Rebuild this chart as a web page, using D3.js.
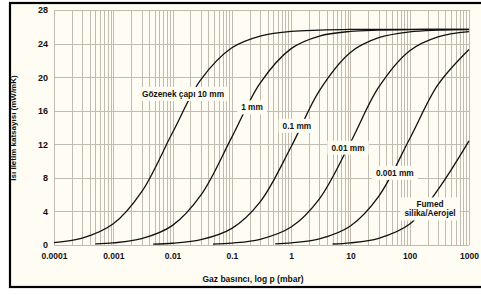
<!DOCTYPE html>
<html>
<head>
<meta charset="utf-8">
<script src="https://cdn.jsdelivr.net/npm/d3@7"></script>
<style>
body { margin: 0; background: #fff; }
text { font-family: "Liberation Sans", Arial, sans-serif; font-weight: bold; fill: #111; }
</style>
</head>
<body>
<div class="canvas"></div>
<script>
// tick values / labels
const xTicks = [0.0001, 0.001, 0.01, 0.1, 1, 10, 100, 1000];
const xTickLabels = ['0.0001', '0.001', '0.01', '0.1', '1', '10', '100', '1000'];
const yTicks = [0, 4, 8, 12, 16, 20, 24, 28];

// curves: [pressure mbar, conductivity mW/mK]
const pore10mm = [[0.0001,0.28],[0.0003,0.81],[0.001,2.52],[0.003,6.32],[0.01,13.4],[0.03,19.7],[0.1,23.5],[0.3,24.9],[1,25.45],[3,25.6],[10,25.68],[30,25.7],[100,25.7],[300,25.7],[1000,25.7]];
const pore1mm = [[0.0005,0.13],[0.001,0.25],[0.003,0.75],[0.01,2.34],[0.03,5.93],[0.1,12.85],[0.3,19.3],[1,23.4],[3,24.9],[10,25.45],[30,25.6],[100,25.67],[300,25.69],[1000,25.7]];
const pore01mm = [[0.0047,0.1],[0.01,0.21],[0.03,0.63],[0.1,1.98],[0.3,5.14],[1,11.7],[3,18.4],[10,22.95],[30,24.7],[100,25.4],[300,25.6],[1000,25.67]];
const pore001mm = [[0.048,0.11],[0.1,0.23],[0.3,0.68],[1,2.14],[3,5.5],[10,12.2],[30,18.8],[100,23.15],[300,24.8],[1000,25.42]];
const pore0001mm = [[0.54,0.13],[1,0.25],[3,0.73],[10,2.27],[30,5.8],[100,12.66],[300,19.1],[1000,23.3]];
const fumed = [[5,0.12],[10,0.25],[30,0.8],[100,2.5],[300,6.6],[1000,12.4]];

const series = [pore10mm, pore1mm, pore01mm, pore001mm, pore0001mm, fumed];
// curve labels with anchor in data coords [p, value]
const labelText = [['Gözenek çapı 10 mm'], ['1 mm'], ['0.1 mm'], ['0.01 mm'], ['0.001 mm'], ['Fumed', 'silika/Aerojel']];
const labelAt = [[0.015,18.0],[0.219,16.4],[1.25,14.2],[9.1,11.6],[56,8.6],[220,4.3]];

const W = 481, H = 295;
const svg = d3.select('.canvas').append('svg')
    .attr('width', W).attr('height', H);

// outer frame
svg.append('rect')
    .attr('x', 10).attr('y', 3).attr('width', 490).attr('height', 284)
    .attr('fill', '#fffdf3').attr('stroke', '#000').attr('stroke-width', 2.2);

const x = d3.scaleLog().domain([0.0001, 1000]).range([54, 469]);
const y = d3.scaleLinear().domain([0, 28]).range([245, 10]);

const grid = svg.append('g').attr('stroke', '#c2bcb0').attr('stroke-width', 1);
grid.selectAll('.v').data(x.ticks()).enter().append('line')
    .attr('x1', d => Math.round(x(d)) + 0.5).attr('x2', d => Math.round(x(d)) + 0.5)
    .attr('y1', y(28)).attr('y2', y(0));
grid.selectAll('.h').data(yTicks).enter().append('line')
    .attr('x1', x(0.0001)).attr('x2', x(1000))
    .attr('y1', d => Math.round(y(d)) + 0.5).attr('y2', d => Math.round(y(d)) + 0.5);

// axes (labels only)
const xAxis = d3.axisBottom(x).tickValues(xTicks).tickSize(0).tickPadding(0)
    .tickFormat((d, i) => xTickLabels[i]);
const gx = svg.append('g').attr('transform', 'translate(0,253)').call(xAxis);
gx.select('.domain').remove();
gx.selectAll('text').attr('font-size', 8.5).attr('font-family', null).attr('fill', '#111');

const yAxis = d3.axisLeft(y).tickValues(yTicks).tickSize(0).tickPadding(0);
const gy = svg.append('g').attr('transform', 'translate(48,0)').call(yAxis);
gy.select('.domain').remove();
gy.selectAll('text').attr('font-size', 9).attr('font-family', null).attr('fill', '#111');

// curves
const line = d3.line()
    .x(d => x(d[0])).y(d => y(d[1]))
    .curve(d3.curveCatmullRom.alpha(0.5));
svg.append('g').selectAll('path').data(series).enter().append('path')
    .attr('d', line)
    .attr('fill', 'none').attr('stroke', '#111').attr('stroke-width', 1.3);

// curve labels with background
const labels = svg.append('g');
labelText.forEach((lines, i) => {
    const g = labels.append('g')
        .attr('transform', `translate(${x(labelAt[i][0])},${y(labelAt[i][1])})`);
    const bg = g.append('rect').attr('fill', '#fffdf3');
    const t = g.append('text').attr('text-anchor', 'middle').attr('font-size', 8.3);
    lines.forEach((s, k) => {
        t.append('tspan').attr('x', 0)
            .attr('y', (k - (lines.length - 1) / 2) * 9 + 3)
            .text(s);
    });
    const b = t.node().getBBox();
    bg.attr('x', b.x - 4).attr('y', b.y - 2).attr('width', b.width + 8).attr('height', b.height + 4);
});

// axis titles
svg.append('text').attr('x', 253).attr('y', 282).attr('text-anchor', 'middle')
    .attr('font-size', 8.5).text('Gaz basıncı, log p (mbar)');
svg.append('text').attr('transform', 'translate(16,128) rotate(-90)')
    .attr('text-anchor', 'middle').attr('font-size', 8)
    .text('Isı iletim katsayısı (mW/mK)');
</script>
</body>
</html>
